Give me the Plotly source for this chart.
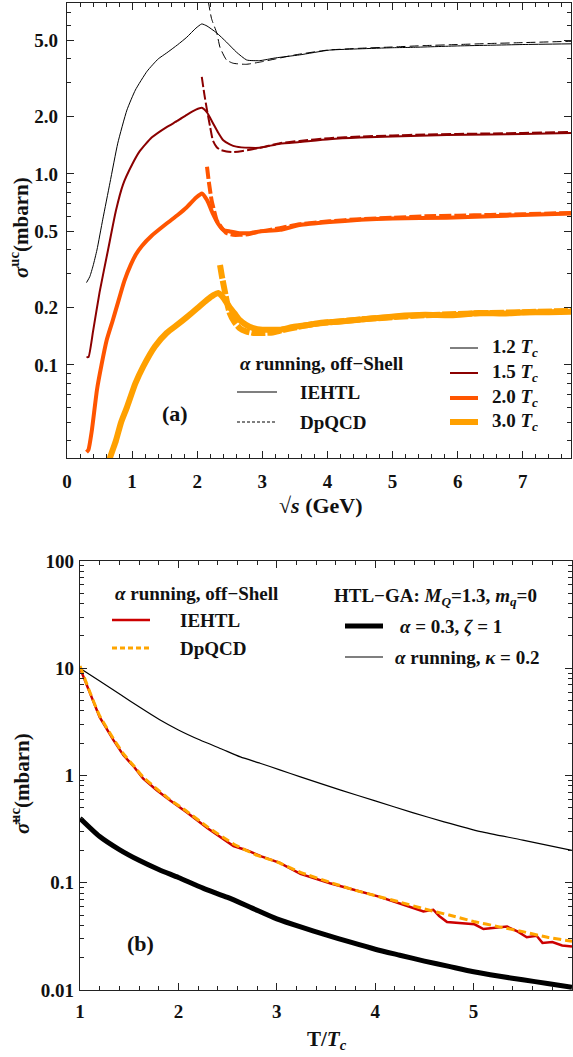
import plotly.graph_objects as go

W, H = 573, 1057

# ---------------- panel (a): sigma^uc vs sqrt(s) ----------------
s_12 = [0.30, 0.35, 0.40, 0.46, 0.55, 0.66, 0.78, 0.92, 1.05, 1.23, 1.40, 1.53, 1.70, 1.84, 1.98, 2.07,
        2.15, 2.30, 2.45, 2.60, 2.76, 2.96, 3.20, 3.57, 4.03, 4.50, 5.00, 5.30, 6.00, 6.50, 7.00, 7.74]
ieh_12 = [0.27, 0.29, 0.33, 0.40, 0.58, 0.90, 1.45, 2.16, 2.75, 3.45, 4.00, 4.30, 4.75, 5.20, 5.80, 6.10,
          5.95, 5.47, 4.90, 4.35, 3.95, 3.92, 4.05, 4.20, 4.45, 4.52, 4.58, 4.60, 4.68, 4.72, 4.76, 4.80]
sd_12 = [2.17, 2.22, 2.30, 2.35, 2.45, 2.55, 2.75, 2.96, 3.20, 3.50, 4.00, 4.50, 5.00, 5.50, 6.00, 6.50, 7.00, 7.74]
dpq_12 = [8.00, 6.50, 5.47, 4.60, 3.95, 3.80, 3.75, 3.85, 4.00, 4.20, 4.45, 4.55, 4.62, 4.70, 4.76, 4.82, 4.87, 4.95]

s_15 = [0.30, 0.33, 0.40, 0.50, 0.63, 0.75, 0.86, 1.00, 1.12, 1.30, 1.53, 1.70, 1.84, 1.98, 2.07, 2.15,
        2.24, 2.32, 2.40, 2.50, 2.60, 2.80, 2.96, 3.27, 3.57, 4.03, 4.50, 5.00, 5.83, 6.50, 7.00, 7.74]
ieh_15 = [0.11, 0.11, 0.15, 0.24, 0.40, 0.64, 0.88, 1.12, 1.32, 1.55, 1.76, 1.90, 2.04, 2.17, 2.22, 2.10,
          1.85, 1.65, 1.50, 1.43, 1.39, 1.37, 1.37, 1.44, 1.47, 1.52, 1.55, 1.57, 1.60, 1.61, 1.62, 1.64]
sd_15 = [2.07, 2.11, 2.15, 2.20, 2.24, 2.30, 2.35, 2.45, 2.55, 2.70, 2.96, 3.27, 3.57, 4.03, 4.50, 5.00,
         5.50, 6.00, 6.50, 7.00, 7.74]
dpq_15 = [3.22, 2.60, 2.16, 1.75, 1.50, 1.38, 1.34, 1.31, 1.30, 1.32, 1.37, 1.45, 1.49, 1.54, 1.57, 1.59,
          1.61, 1.62, 1.63, 1.64, 1.66]

s_20 = [0.30, 0.33, 0.38, 0.46, 0.53, 0.61, 0.70, 0.77, 0.88, 0.98, 1.06, 1.15, 1.30, 1.53, 1.70, 1.84, 1.98,
        2.07, 2.15, 2.24, 2.32, 2.40, 2.50, 2.65, 2.80, 2.96, 3.27, 3.57, 4.03, 4.50, 5.00, 5.83, 6.50, 7.00, 7.74]
ieh_20 = [0.035, 0.036, 0.045, 0.074, 0.100, 0.135, 0.170, 0.205, 0.275, 0.335, 0.380, 0.420, 0.475, 0.550,
          0.610, 0.670, 0.750, 0.790, 0.730, 0.620, 0.550, 0.510, 0.500, 0.490, 0.490, 0.500, 0.510, 0.540,
          0.560, 0.575, 0.585, 0.590, 0.600, 0.610, 0.620]
sd_20 = [2.15, 2.18, 2.22, 2.26, 2.30, 2.38, 2.45, 2.55, 2.65, 2.80, 2.96, 3.27, 3.57, 4.03, 4.50, 5.00,
         5.50, 6.00, 6.50, 7.00, 7.74]
dpq_20 = [1.09, 0.90, 0.73, 0.64, 0.57, 0.52, 0.49, 0.48, 0.48, 0.485, 0.50, 0.52, 0.545, 0.565, 0.58, 0.59,
          0.60, 0.605, 0.61, 0.615, 0.625]

s_30 = [0.60, 0.66, 0.75, 0.83, 0.92, 1.05, 1.17, 1.35, 1.53, 1.70, 1.84, 2.00, 2.15, 2.25, 2.32, 2.40,
        2.50, 2.58, 2.65, 2.75, 2.86, 3.00, 3.16, 3.27, 3.47, 3.70, 3.88, 4.20, 4.60, 5.06, 5.50, 5.90,
        6.33, 6.70, 7.00, 7.40, 7.74]
ieh_30 = [0.026, 0.0326, 0.040, 0.050, 0.060, 0.080, 0.098, 0.125, 0.147, 0.163, 0.178, 0.198, 0.219,
          0.232, 0.238, 0.225, 0.200, 0.185, 0.172, 0.162, 0.156, 0.153, 0.153, 0.153, 0.158, 0.162, 0.166,
          0.169, 0.174, 0.180, 0.183, 0.182, 0.187, 0.186, 0.188, 0.189, 0.190]
sd_30 = [2.35, 2.38, 2.42, 2.46, 2.50, 2.57, 2.65, 2.75, 2.86, 3.00, 3.16, 3.30, 3.50, 3.70, 4.00, 4.50,
         5.00, 5.50, 6.00, 6.50, 7.00, 7.74]
dpq_30 = [0.334, 0.290, 0.247, 0.210, 0.187, 0.168, 0.156, 0.150, 0.147, 0.147, 0.148, 0.152, 0.157, 0.162,
          0.167, 0.173, 0.178, 0.182, 0.185, 0.187, 0.189, 0.192]

temp_labels = ["1.2", "1.5", "2.0", "3.0"]
temp_colors = ["#000000", "#8B0000", "#FF5500", "#FFA000"]
temp_widths = [1.0, 2.0, 4.0, 6.0]
temp_dashes = ["9px,4px", "10px,3px", "12px,3px", "14px,2px"]

a_ticks = [0.1, 0.2, 0.5, 1.0, 2.0, 5.0]
a_ticktext = ["0.1", "0.2", "0.5", "1.0", "2.0", "5.0"]
a_minor = [0.04, 0.05, 0.06, 0.07, 0.08, 0.09, 0.3, 0.4, 0.6, 0.7, 0.8, 0.9, 3, 4, 6, 7]

# ---------------- panel (b): averaged sigma^uc vs T/Tc ----------------
T_run = [1.0, 1.2, 1.41, 1.6, 1.81, 2.0, 2.22, 2.45, 2.63, 2.83, 3.03, 3.24, 3.65, 4.0, 4.38, 4.7, 5.07, 5.5, 6.0]
htl_run = [10.0, 7.6, 5.7, 4.37, 3.31, 2.66, 2.14, 1.75, 1.49, 1.30, 1.13, 0.97, 0.73, 0.58, 0.45, 0.37, 0.30,
           0.25, 0.20]

T_fix = [1.0, 1.2, 1.4, 1.6, 1.8, 2.0, 2.25, 2.5, 2.75, 3.0, 3.25, 3.5, 3.75, 4.0, 4.25, 4.5, 4.75, 5.0,
         5.25, 5.5, 5.75, 6.0]
htl_fix = [0.40, 0.27, 0.204, 0.162, 0.133, 0.112, 0.089, 0.073, 0.058, 0.046, 0.0385, 0.0327, 0.0279,
           0.024, 0.0211, 0.0186, 0.0166, 0.0148, 0.0135, 0.01245, 0.0115, 0.0106]

T_ieh = [1.0, 1.1, 1.2, 1.34, 1.44, 1.55, 1.64, 1.78, 1.91, 2.09, 2.3, 2.56, 2.7, 2.85, 3.03, 3.24, 3.54,
         3.8, 4.02, 4.25, 4.49, 4.59, 4.65, 4.73, 4.9, 5.01, 5.1, 5.2, 5.34, 5.45, 5.54, 5.64, 5.7, 5.8,
         5.9, 6.0]
ieh_avg = [10.0, 5.8, 3.5, 2.14, 1.55, 1.2, 0.94, 0.73, 0.59, 0.45, 0.32, 0.22, 0.20, 0.175, 0.153, 0.121,
           0.099, 0.085, 0.075, 0.064, 0.054, 0.056, 0.049, 0.043, 0.042, 0.041, 0.037, 0.038, 0.039, 0.035,
           0.031, 0.032, 0.0275, 0.028, 0.026, 0.0255]

T_dpq = [1.0, 1.1, 1.2, 1.34, 1.44, 1.55, 1.64, 1.78, 1.91, 2.09, 2.3, 2.56, 2.8, 3.0, 3.24, 3.54, 3.8,
         4.02, 4.25, 4.5, 4.75, 5.0, 5.25, 5.5, 5.75, 6.0]
dpq_avg = [10.5, 6.0, 3.6, 2.2, 1.6, 1.22, 0.97, 0.75, 0.6, 0.46, 0.33, 0.23, 0.18, 0.157, 0.125, 0.101,
           0.085, 0.075, 0.066, 0.057, 0.050, 0.0436, 0.039, 0.035, 0.031, 0.0285]

b_ticks = [0.01, 0.1, 1, 10, 100]
b_ticktext = ["0.01", "0.1", "1", "10", "100"]
b_minor = [m * 10.0 ** e for e in range(-2, 2) for m in range(2, 10)]

FONT = "Liberation Serif, Times New Roman, serif"
fig = go.Figure()

# panel (a) curves: solid = IEHTL, dashed = DpQCD
curves_a = [(s_12, ieh_12, sd_12, dpq_12), (s_15, ieh_15, sd_15, dpq_15),
            (s_20, ieh_20, sd_20, dpq_20), (s_30, ieh_30, sd_30, dpq_30)]
for (sx, sy, dx, dy), lab, col, wid, dsh in zip(curves_a, temp_labels, temp_colors, temp_widths, temp_dashes):
    fig.add_trace(go.Scatter(x=sx, y=sy, mode="lines", xaxis="x", yaxis="y",
                             line=dict(color=col, width=wid, shape="spline", smoothing=0.5),
                             name=f"IEHTL {lab} Tc", showlegend=False))
    fig.add_trace(go.Scatter(x=dx, y=dy, mode="lines", xaxis="x", yaxis="y",
                             line=dict(color=col, width=wid, dash=dsh, shape="spline", smoothing=0.5),
                             name=f"DpQCD {lab} Tc", showlegend=False))

# panel (b) curves
fig.add_trace(go.Scatter(x=T_run, y=htl_run, mode="lines", xaxis="x2", yaxis="y2",
                         line=dict(color="black", width=1.2, shape="spline", smoothing=0.6), showlegend=False))
fig.add_trace(go.Scatter(x=T_fix, y=htl_fix, mode="lines", xaxis="x2", yaxis="y2",
                         line=dict(color="black", width=5, shape="spline", smoothing=0.6), showlegend=False))
fig.add_trace(go.Scatter(x=T_ieh, y=ieh_avg, mode="lines", xaxis="x2", yaxis="y2",
                         line=dict(color="#CC0000", width=2.5), showlegend=False))
fig.add_trace(go.Scatter(x=T_dpq, y=dpq_avg, mode="lines", xaxis="x2", yaxis="y2",
                         line=dict(color="#FFA500", width=3, dash="8px,4px", shape="spline", smoothing=0.5),
                         showlegend=False))


def px(x):
    return x / W


def py(y):
    return 1 - y / H


axis_common = dict(showline=True, linecolor="#222", linewidth=1.2, mirror="allticks", automargin=False,
                   ticks="inside", ticklen=7, tickwidth=1, tickcolor="#222", showgrid=False, zeroline=False,
                   tickfont=dict(family=FONT, size=19, color="#111", weight=700))

fig.update_layout(
    width=W, height=H, margin=dict(l=0, r=0, t=0, b=0, autoexpand=False),
    paper_bgcolor="white", plot_bgcolor="white", showlegend=False,
    font=dict(family=FONT),
    xaxis=dict(domain=[px(67), px(571)], range=[0, 7.74], anchor="y", tickvals=list(range(0, 8)),
               minor=dict(dtick=0.2, ticks="inside", ticklen=4, tickcolor="#222"),
               ticklabelstandoff=6, **axis_common),
    yaxis=dict(domain=[py(458), py(3)], type="log", range=[-1.487, 0.895], anchor="x",
               tickmode="array", tickvals=a_ticks, ticktext=a_ticktext,
               minor=dict(tickmode="array", tickvals=a_minor, ticks="inside", ticklen=4, tickcolor="#222"),
               ticklabelstandoff=4, **axis_common),
    xaxis2=dict(domain=[px(80), px(572)], range=[1, 6], anchor="y2", tickvals=list(range(1, 7)),
                minor=dict(dtick=0.2, ticks="inside", ticklen=4, tickcolor="#222"),
                ticklabelstandoff=4, **axis_common),
    yaxis2=dict(domain=[py(990), py(561)], type="log", range=[-2, 2], anchor="x2",
                tickmode="array", tickvals=b_ticks, ticktext=b_ticktext,
                minor=dict(tickmode="array", tickvals=b_minor, ticks="inside", ticklen=4, tickcolor="#222"),
                ticklabelstandoff=1, **axis_common),
)

shapes = []
ann = []


def text(x, y, s, size=19, xanchor="left", angle=0):
    ann.append(dict(x=px(x), y=py(y), xref="paper", yref="paper", text=f"<b>{s}</b>", showarrow=False,
                    xanchor=xanchor, yanchor="middle", textangle=angle,
                    font=dict(family=FONT, size=size, color="#111", weight=700)))


def sample(x0, x1, y, color, width, dash="solid"):
    shapes.append(dict(type="line", xref="paper", yref="paper", x0=px(x0), x1=px(x1), y0=py(y), y1=py(y),
                       line=dict(color=color, width=width, dash=dash)))


# panel (a) legends
text(238, 363, "<i>α</i> running, off−Shell")
sample(237, 277, 392, "black", 1.2)
text(298, 392, "IEHTL")
sample(237, 277, 422, "black", 1.2, "3px,2px")
text(298, 422, "DpQCD")
for lab, col, wid, yy in zip(temp_labels, temp_colors, temp_widths, [348, 373, 398, 422]):
    sample(450, 478, yy, col, wid)
    text(490, yy, f"{lab} <i>T<sub>c</sub></i>")
text(175, 413, "(a)", size=22, xanchor="center")

# panel (b) legends
text(113, 593, "<i>α</i> running, off−Shell")
sample(112, 150, 620, "#CC0000", 2.5)
text(178, 620, "IEHTL")
sample(112, 150, 648, "#FFA500", 3, "5px,3px")
text(178, 648, "DpQCD")
text(332, 597, "HTL−GA: <i>M<sub>Q</sub></i>=1.3, <i>m<sub>q</sub></i>=0")
sample(345, 383, 626, "black", 5)
text(398, 626, "<i>α</i> = 0.3, <i>ζ</i> = 1")
sample(345, 383, 657, "black", 1.2)
text(393, 657, "<i>α</i> running, <i>κ</i> = 0.2")
text(140, 943, "(b)", size=22, xanchor="center")

# axis titles
text(321, 506, "√<i>s</i> (GeV)", size=22, xanchor="center")
text(20, 228, "<i>σ</i><sup>uc</sup>(mbarn)", size=21, xanchor="center", angle=-90)
text(327, 1040, "T/<i>T<sub>c</sub></i>", size=21, xanchor="center")
text(20, 784, "<i>σ̄</i><sup>uc</sup>(mbarn)", size=21, xanchor="center", angle=-90)

fig.update_layout(shapes=shapes, annotations=ann)
fig.write_html("out.html")
